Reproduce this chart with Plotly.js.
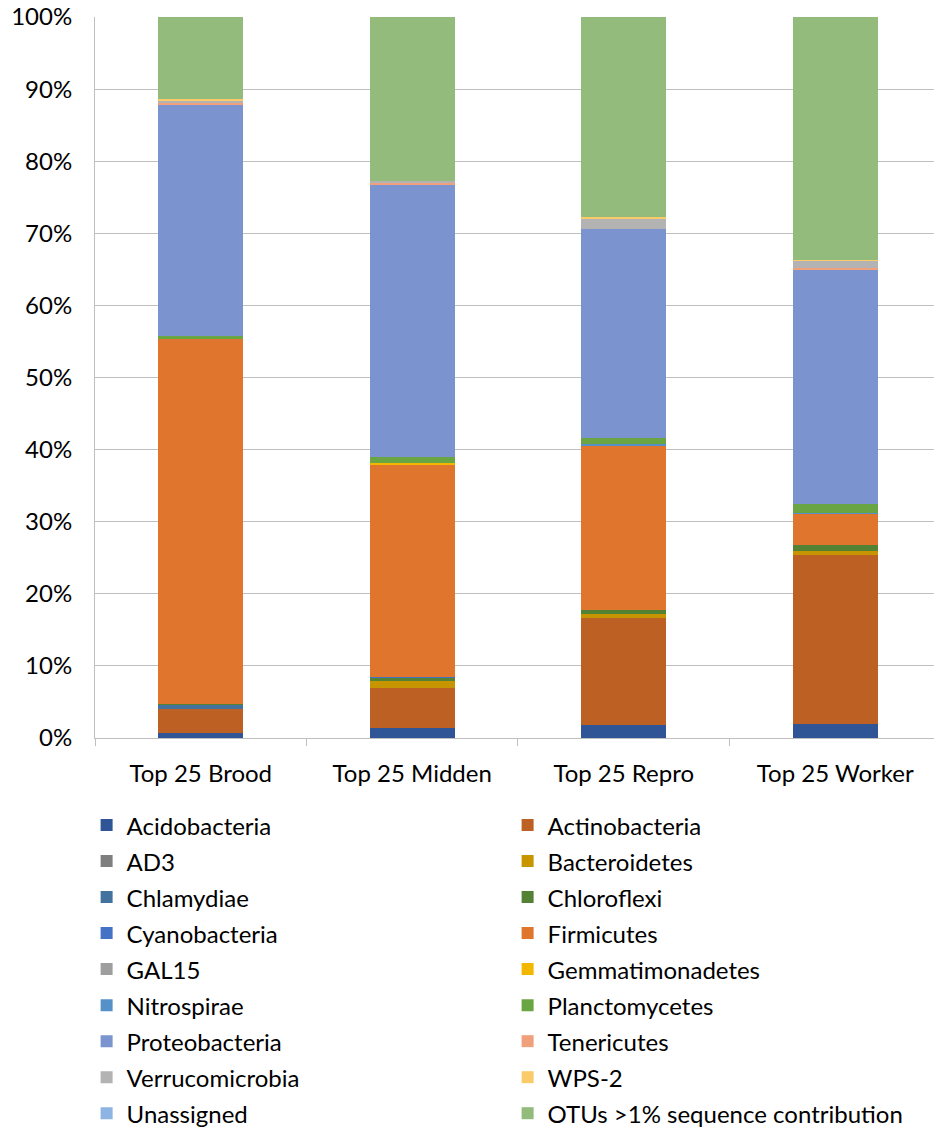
<!DOCTYPE html>
<html>
<head>
<meta charset="utf-8">
<script src="https://cdn.plot.ly/plotly-3.0.1.min.js"></script>
<style>
  html, body { margin: 0; padding: 0; background: #ffffff; }
  #chart { width: 934px; height: 1131px; }
</style>
</head>
<body>
<div id="chart"></div>
<script>
// Relative abundance (%) of bacterial phyla in the top 25 OTUs per sample group
const groups = ["Top 25 Brood", "Top 25 Midden", "Top 25 Repro", "Top 25 Worker"];

const acidobacteria    = [0.7, 1.4, 1.8, 1.9];
const actinobacteria   = [3.3, 5.5, 14.8, 23.5];
const ad3              = [0, 0, 0, 0];
const bacteroidetes    = [0, 1.0, 0.65, 0.5];
const chlamydiae       = [0.6, 0, 0, 0];
const chloroflexi      = [0.1, 0.45, 0.45, 0.8];
const cyanobacteria    = [0, 0.15, 0, 0];
const firmicutes       = [50.6, 29.3, 22.8, 4.3];
const gal15            = [0, 0, 0, 0];
const gemmatimonadetes = [0, 0.3, 0, 0];
const nitrospirae      = [0, 0, 0.25, 0.2];
const planctomycetes   = [0.5, 0.9, 0.9, 1.25];
const proteobacteria   = [32.0, 37.7, 29.0, 32.45];
const tenericutes      = [0.25, 0.25, 0, 0.25];
const verrucomicrobia  = [0.3, 0.35, 1.35, 1.0];
const wps2             = [0.25, 0, 0.2, 0.2];
const unassigned       = [0, 0, 0, 0];
const otusOver1pct     = [11.4, 22.7, 27.8, 33.65];

const seriesNames = [
  "Acidobacteria", "Actinobacteria", "AD3", "Bacteroidetes", "Chlamydiae",
  "Chloroflexi", "Cyanobacteria", "Firmicutes", "GAL15", "Gemmatimonadetes",
  "Nitrospirae", "Planctomycetes", "Proteobacteria", "Tenericutes",
  "Verrucomicrobia", "WPS-2", "Unassigned", "OTUs >1% sequence contribution"
];
const seriesValues = [
  acidobacteria, actinobacteria, ad3, bacteroidetes, chlamydiae,
  chloroflexi, cyanobacteria, firmicutes, gal15, gemmatimonadetes,
  nitrospirae, planctomycetes, proteobacteria, tenericutes,
  verrucomicrobia, wps2, unassigned, otusOver1pct
];
const seriesColors = [
  "#2F5597", "#BC6023", "#7F7F7F", "#C69500", "#43729F",
  "#548235", "#4472C4", "#E0762E", "#9E9E9E", "#F2B800",
  "#5690C8", "#6AA544", "#7B93CF", "#F1A07C",
  "#B3B3B3", "#FBCB6A", "#8DB4E2", "#93BB7B"
];

const FONT = "Lato, 'Open Sans', sans-serif";
const TEXT_SIZE = 24;

// Legend rows use a larger base font for row spacing; the label itself is sized inline
const traces = seriesNames.map((name, i) => ({
  type: "bar",
  name: '<span style="font-size:' + TEXT_SIZE + 'px">' + name + '</span>',
  x: groups,
  y: seriesValues[i],
  marker: { color: seriesColors[i], line: { width: 0 } },
  hoverinfo: "x+y"
}));

const layout = {
  width: 934,
  height: 1131,
  barmode: "stack",
  bargap: 0.6,
  paper_bgcolor: "#ffffff",
  plot_bgcolor: "#ffffff",
  font: { family: FONT, size: TEXT_SIZE, color: "#000000" },
  margin: { l: 95, r: 0, t: 17, b: 393, pad: 0, autoexpand: false },
  xaxis: {
    type: "category",
    range: [-0.5, 3.467],
    showline: true,
    linecolor: "#BFBFBF",
    linewidth: 1,
    ticks: "outside",
    tickson: "boundaries",
    ticklen: 7,
    tickcolor: "#BFBFBF",
    showgrid: false,
    ticklabelstandoff: 14,
    tickfont: { family: FONT, size: TEXT_SIZE, color: "#000000" }
  },
  yaxis: {
    range: [0, 100],
    dtick: 10,
    ticksuffix: "%",
    showline: true,
    linecolor: "#BFBFBF",
    linewidth: 1,
    showgrid: true,
    gridcolor: "#BFBFBF",
    gridwidth: 1,
    zeroline: false,
    ticks: "",
    ticklabelstandoff: 17,
    tickfont: { family: FONT, size: TEXT_SIZE, color: "#000000" }
  },
  showlegend: true,
  legend: {
    orientation: "h",
    traceorder: "normal",
    x: -0.01,
    xanchor: "left",
    y: -0.0888,
    yanchor: "top",
    entrywidth: 376,
    entrywidthmode: "pixels",
    font: { family: FONT, size: 25.4, color: "#000000" },
    bgcolor: "rgba(0,0,0,0)"
  }
};

Plotly.newPlot("chart", traces, layout, { displayModeBar: false, staticPlot: true });
</script>
</body>
</html>
